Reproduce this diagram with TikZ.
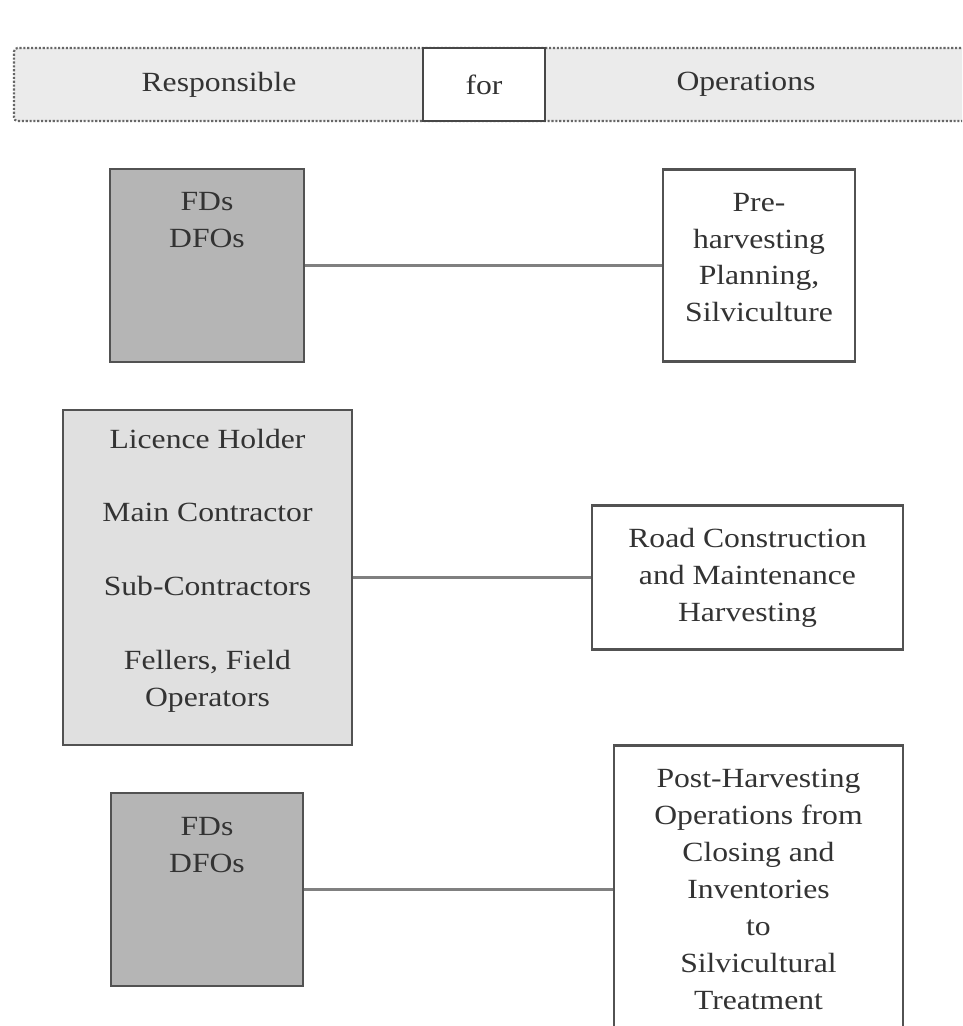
\documentclass[tikz,border=0pt]{standalone}
\usepackage{fontspec}
\setmainfont{Liberation Serif}[FakeStretch=1.14]
\usepackage{tikz}

\begin{document}
\begin{tikzpicture}[every node/.style={font=\fontsize{15.8}{21}\selectfont, text=black!80},
    whobox/.style={draw=black!68, line width=1.4pt, fill=black!29},
    crewbox/.style={draw=black!68, line width=1.4pt, fill=black!12},
    taskbox/.style={draw=black!68, line width=1.4pt, fill=white},
    boxtext/.style={inner sep=0pt, align=center},
    link/.style={draw=black!50, line width=1.3pt}]
  \useasboundingbox (0,0) rectangle (19.24,-20.52);
  \clip (0,0) rectangle (19.24,-20.52);

  % header bar
  \node[draw=black!60, densely dotted, line width=1.2pt, fill=black!8, rounded corners=2pt,
        minimum width=19.32cm, minimum height=1.46cm] (bar) at (9.94,-1.69) {};
  \node[draw=black!72, line width=1.2pt, fill=white, minimum width=2.44cm, minimum height=1.46cm] (for) at (9.68,-1.69) {for};
  \node (resp) at (4.38,-1.69) {Responsible};
  \node (ops) at (14.92,-1.69) {Operations};

  % first row
  \node[whobox, minimum width=3.88cm, minimum height=3.86cm] (fd1) at (4.14,-5.31) {};
  \node[boxtext, anchor=north] (fd1t) at ([yshift=-0.48cm]fd1.north) {FDs\\DFOs};
  \node[taskbox, minimum width=3.84cm, minimum height=3.84cm] (pre) at (15.18,-5.31) {};
  \node[boxtext] (pret) at ([yshift=0.16cm]pre.center) {Pre-\\harvesting\\Planning,\\Silviculture};
  \draw[link] (fd1) -- (pre);

  % second row
  \node[crewbox, minimum width=5.78cm, minimum height=6.70cm] (lic) at (4.15,-11.55) {};
  \node[boxtext] (lict) at ([yshift=0.14cm]lic.center)
    {Licence Holder\\[21pt]Main Contractor\\[21pt]Sub-Contractors\\[21pt]Fellers, Field\\Operators};
  \node[taskbox, minimum width=6.22cm, minimum height=2.88cm] (road) at (14.95,-11.55) {};
  \node[boxtext] (roadt) at (road.center) {Road Construction\\and Maintenance\\Harvesting};
  \draw[link] (lic) -- (road);

  % third row
  \node[whobox, minimum width=3.84cm, minimum height=3.86cm] (fd2) at (4.14,-17.79) {};
  \node[boxtext, anchor=north] (fd2t) at ([yshift=-0.5cm]fd2.north) {FDs\\DFOs};
  \node[taskbox, minimum width=5.78cm, minimum height=5.76cm] (post) at (15.17,-17.79) {};
  \node[boxtext] (postt) at (post.center)
    {Post-Harvesting\\Operations from\\Closing and\\Inventories\\to\\Silvicultural\\Treatment};
  \draw[link] (fd2) -- (post);
\end{tikzpicture}
\end{document}
